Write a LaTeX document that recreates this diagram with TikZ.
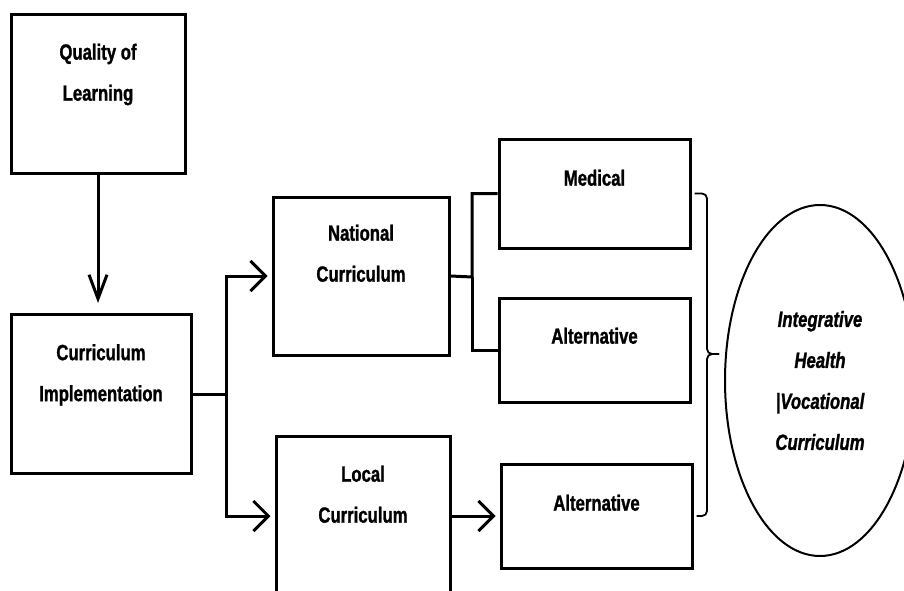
\documentclass[tikz,border=0pt]{standalone}
\usepackage{fontspec}
\setmainfont{Liberation Sans}[FakeStretch=0.76,
    BoldFeatures={FakeBold=1.2}, BoldItalicFeatures={FakeBold=1.2}]
\usetikzlibrary{shapes.geometric, arrows.meta}

\begin{document}
\begin{tikzpicture}[
    x=1pt, y=-1pt,
    font=\fontsize{22}{41}\selectfont\bfseries,
    box/.style={draw, line width=3pt, inner sep=0pt},
    txt/.style={anchor=north, align=center, inner sep=0pt},
    goal/.style={ellipse, draw, line width=2pt, align=center, inner sep=0pt, font=\fontsize{22}{41}\selectfont\bfseries\itshape},
    link/.style={line width=3pt},
    arr/.style={line width=3pt, -{Straight Barb[length=15pt, width=30pt]}, shorten >=4pt},
    brace/.style={line width=1.8pt, rounded corners=5pt}
]

    % --- Page ---
    \clip (0,0) rectangle (904,591);

    % --- Boxes ---
    \node[box, minimum width=174pt, minimum height=158pt] (quality)   at (98,94)      {};
    \node[box, minimum width=180pt, minimum height=159pt] (implement) at (101,394)    {};
    \node[box, minimum width=176pt, minimum height=158pt] (national)  at (361,276)    {};
    \node[box, minimum width=174pt, minimum height=160pt] (local)     at (363,516)    {};
    \node[box, minimum width=191pt, minimum height=109pt] (medical)   at (594.5,193.5){};
    \node[box, minimum width=191pt, minimum height=104pt] (altnat)    at (594.5,350)  {};
    \node[box, minimum width=191pt, minimum height=104pt] (altloc)    at (596.5,516)  {};

    % --- Box texts ---
    \node[txt] (qualityT)   at ([yshift=-30pt]quality.north)   {Quality of\\Learning};
    \node[txt] (implementT) at ([yshift=-31pt]implement.north) {Curriculum\\Implementation};
    \node[txt] (nationalT)  at ([yshift=-29pt]national.north)  {National\\Curriculum};
    \node[txt] (localT)     at ([yshift=-31pt]local.north)     {Local\\Curriculum};
    \node[txt] (medicalT)   at ([yshift=-32pt]medical.north)   {Medical};
    \node[txt] (altnatT)    at ([yshift=-31pt]altnat.north)    {Alternative};
    \node[txt] (altlocT)    at ([yshift=-32pt]altloc.north)    {Alternative};

    % --- Outcome ---
    \node[goal, minimum width=190pt, minimum height=351pt] (goal) at (820,380.5)
        {Integrative\\Health\\|Vocational\\Curriculum};

    % --- Split points ---
    \coordinate (split1)   at (226,394);
    \coordinate (split2)   at (472,277);
    \coordinate (bracemid) at (707,354);
    \coordinate (bracetip) at (719,354);

    % --- Connectors ---
    \draw[link, -{Straight Barb[length=24pt, width=18pt]}, shorten >=10pt]
        (quality.south) -- (quality.south |- implement.north);

    \draw[link] (implement.east) -- (split1);
    \draw[arr] (split1) |- (national.west);
    \draw[arr] (split1) |- (local.west);

    \draw[link] (national.east) -- (split2) |- (medical.west);
    \draw[link] (split2) |- (altnat.west);

    \draw[arr] (local.east) -- (altloc.west);

    % --- Brace ---
    \draw[brace] ([xshift=3pt]medical.east) -| (bracemid) -- (bracetip);
    \draw[brace] ([xshift=3pt]altloc.east) -| (bracemid) -- (bracetip);

\end{tikzpicture}
\end{document}
